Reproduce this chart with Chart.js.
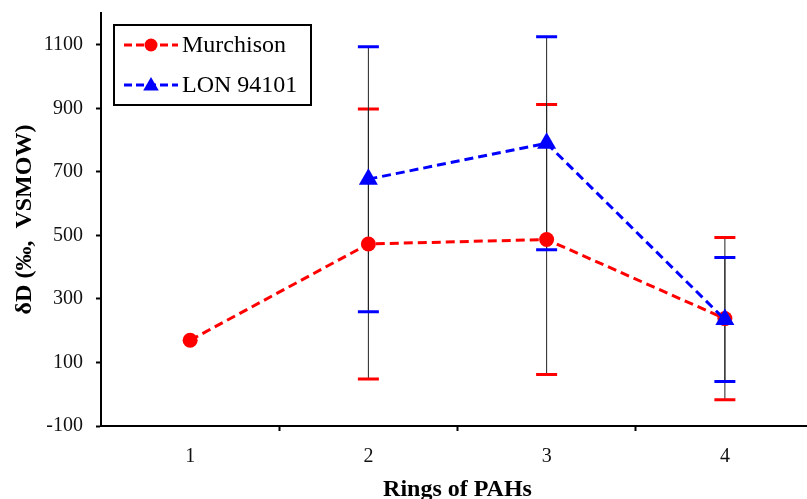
<!DOCTYPE html>
<html>
<head>
<meta charset="utf-8">
<title>Rings of PAHs</title>
<style>
  body { margin: 0; background: #fff; }
  .frame { width: 807px; height: 499px; overflow: hidden; }
  canvas { display: block; }
</style>
</head>
<body>
<!-- the source figure is cut off on the right, so the canvas runs past the frame -->
<div class="frame">
  <canvas id="chart" width="814" height="499"></canvas>
</div>
<script src="https://cdn.jsdelivr.net/npm/chart.js@4/dist/chart.umd.min.js"></script>
<script>
'use strict';

const categories = [1, 2, 3, 4];
const seriesNames = ['Murchison', 'LON 94101'];
const murchison = [170, 473, 487, 238];
const murchisonErr = [null, 425, 425, 255];
const lon94101 = [null, 677, 790, 235];
const lon94101Err = [null, 417, 335, 195];
const yTicks = [-100, 100, 300, 500, 700, 900, 1100];

const serif = "'Liberation Serif', 'Times New Roman', serif";

// category ticks plus the marks between them
const xTicks = categories.concat(categories.slice(1).map(c => c - 0.5));

const toPoints = function (values, errs) {
  return categories.map((c, i) => ({ x: c, y: values[i], err: errs[i] }));
};


/**
 * error bars: thin black stem, caps in the series colour
 */

const errorBars = {
  id: 'errorBars',
  beforeDatasetsDraw(chart) {
    const ctx = chart.ctx;
    const xs = chart.scales.x;
    const ys = chart.scales.y;

    ctx.save();
    chart.data.datasets.forEach(ds => {
      ds.data.forEach(p => {
        if (p.y == null || !p.err) return;
        const x = xs.getPixelForValue(p.x);
        const top = ys.getPixelForValue(p.y + p.err);
        const bottom = ys.getPixelForValue(p.y - p.err);

        ctx.strokeStyle = '#222';
        ctx.lineWidth = 1;
        ctx.beginPath();
        ctx.moveTo(x, top);
        ctx.lineTo(x, bottom);
        ctx.stroke();

        ctx.strokeStyle = ds.borderColor;
        ctx.lineWidth = 3;
        ctx.beginPath();
        ctx.moveTo(x - 10.5, top);
        ctx.lineTo(x + 10.5, top);
        ctx.moveTo(x - 10.5, bottom);
        ctx.lineTo(x + 10.5, bottom);
        ctx.stroke();
      });
    });
    ctx.restore();
  }
};


/**
 * boxed legend inside the plot, line sample with marker
 */

const boxLegend = {
  id: 'boxLegend',
  afterDraw(chart) {
    const ctx = chart.ctx;
    ctx.save();
    ctx.lineWidth = 2;
    ctx.strokeStyle = '#000';
    ctx.strokeRect(114, 25, 197, 80);

    chart.data.datasets.forEach((ds, i) => {
      const y = 45 + i * 40;

      ctx.strokeStyle = ds.borderColor;
      ctx.lineWidth = ds.borderWidth;
      ctx.setLineDash([8, 4]);
      ctx.beginPath();
      ctx.moveTo(124, y);
      ctx.lineTo(178, y);
      ctx.stroke();
      ctx.setLineDash([]);

      ctx.fillStyle = ds.pointBackgroundColor;
      Chart.helpers.drawPoint(ctx, {
        pointStyle: ds.pointStyle,
        radius: ds.pointStyle === 'triangle' ? 9 : 6.5,
        borderWidth: 0,
        rotation: 0
      }, 151, ds.pointStyle === 'triangle' ? y + 1 : y);

      ctx.fillStyle = '#000';
      ctx.font = '24px ' + serif;
      ctx.textBaseline = 'middle';
      ctx.textAlign = 'left';
      ctx.fillText(ds.label, 182, y + 1);
    });
    ctx.restore();
  }
};


const ctx = document.getElementById('chart').getContext('2d');

new Chart(ctx, {
  type: 'line',
  data: {
    datasets: [
      {
        label: seriesNames[0],
        data: toPoints(murchison, murchisonErr),
        borderColor: '#ff0000',
        backgroundColor: '#ff0000',
        pointBackgroundColor: '#ff0000',
        borderWidth: 3,
        borderDash: [9, 5],
        pointStyle: 'circle',
        pointRadius: 7.5,
        pointBorderWidth: 0,
        order: 2
      },
      {
        label: seriesNames[1],
        data: toPoints(lon94101, lon94101Err),
        borderColor: '#0000ff',
        backgroundColor: '#0000ff',
        pointBackgroundColor: '#0000ff',
        borderWidth: 3,
        borderDash: [9, 5],
        pointStyle: 'triangle',
        pointRadius: 11,
        pointBorderWidth: 0,
        order: 1
      }
    ]
  },
  options: {
    responsive: false,
    animation: false,
    devicePixelRatio: 1,
    layout: {
      autoPadding: false,
      padding: { top: 13, right: 0, left: 0, bottom: 0 }
    },
    plugins: {
      legend: { display: false },
      tooltip: { enabled: false }
    },
    scales: {
      x: {
        type: 'linear',
        min: categories[0] - 0.5,
        max: categories[categories.length - 1] + 0.5,
        afterBuildTicks: axis => { axis.ticks = xTicks.map(v => ({ value: v })); },
        afterFit: axis => {
          axis.height = 73;
          axis.paddingLeft = 0;
          axis.paddingRight = 0;
        },
        grid: {
          drawOnChartArea: false,
          tickLength: 5,
          tickWidth: 2,
          tickColor: c => Number.isInteger(c.tick.value) ? 'rgba(0,0,0,0)' : '#000'
        },
        border: { color: '#000', width: 2 },
        ticks: {
          autoSkip: false,
          maxRotation: 0,
          padding: 14,
          color: '#111',
          font: { family: serif, size: 20 },
          callback: v => Number.isInteger(v) ? String(v) : ''
        },
        title: {
          display: true,
          text: 'Rings of PAHs',
          color: '#000',
          font: { family: serif, size: 24, weight: 'bold', lineHeight: 1 },
          padding: { top: 0, bottom: -3 }
        }
      },
      y: {
        min: -100,
        max: 1200,
        afterBuildTicks: axis => { axis.ticks = yTicks.map(v => ({ value: v })); },
        afterFit: axis => {
          axis.width = 101;
          axis.paddingTop = 0;
          axis.paddingBottom = 0;
        },
        grid: {
          drawOnChartArea: false,
          tickLength: 5,
          tickWidth: 2,
          tickColor: '#000'
        },
        border: { color: '#000', width: 2 },
        ticks: {
          padding: 13,
          color: '#111',
          font: { family: serif, size: 20 },
          callback: v => String(v)
        },
        title: {
          display: true,
          text: 'δD (‰,  VSMOW)',
          color: '#000',
          font: { family: serif, size: 24, weight: 'bold', lineHeight: 1.2 },
          padding: { top: 10, bottom: 0 }
        }
      }
    }
  },
  plugins: [errorBars, boxLegend]
});
</script>
</body>
</html>
